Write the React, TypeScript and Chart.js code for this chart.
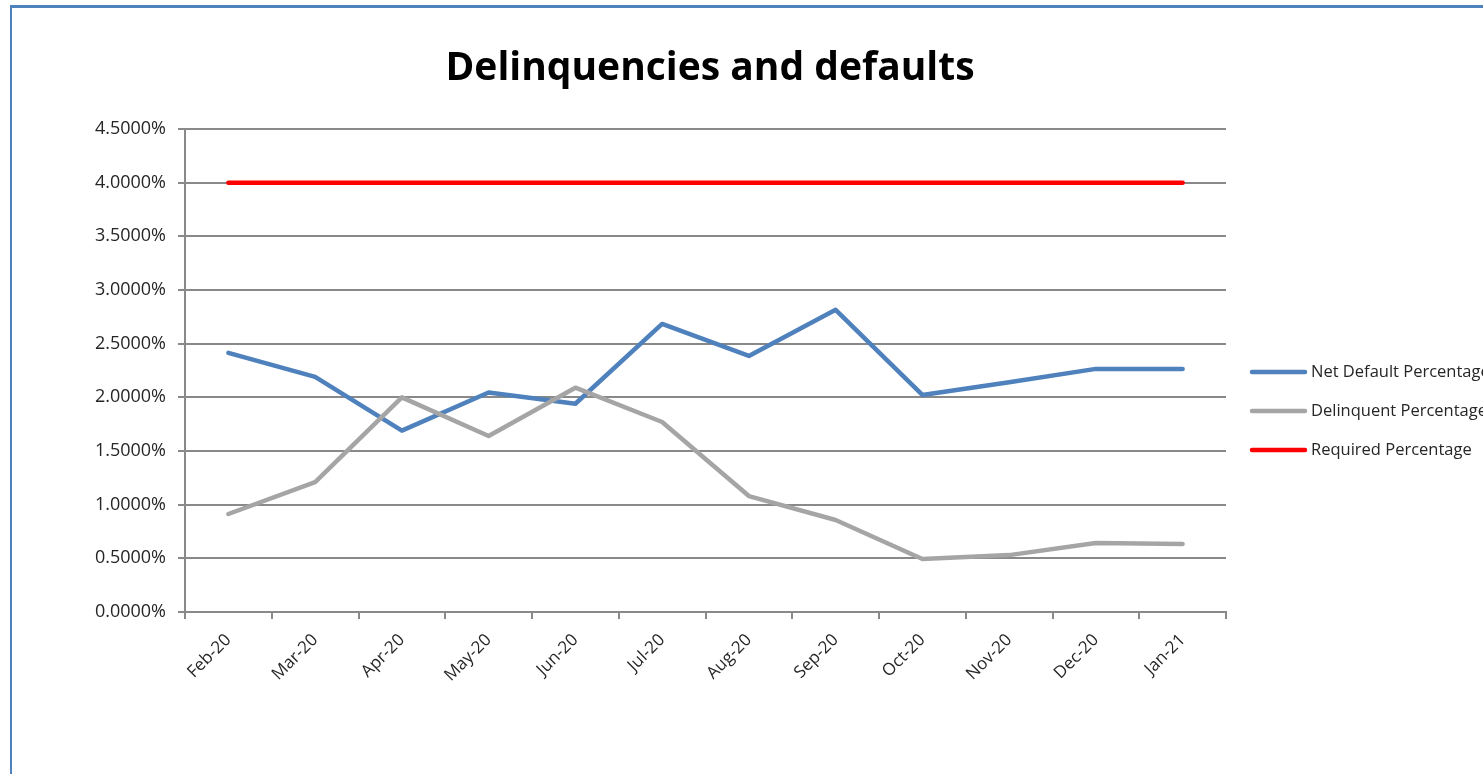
import React, { useEffect, useRef } from "react";
import { Chart, registerables } from "chart.js";

Chart.register(...registerables);

const categories = ["Feb-20", "Mar-20", "Apr-20", "May-20", "Jun-20", "Jul-20", "Aug-20", "Sep-20", "Oct-20", "Nov-20", "Dec-20", "Jan-21"];
const netDefault = [2.414, 2.19, 1.69, 2.045, 1.94, 2.684, 2.386, 2.815, 2.022, 2.14, 2.265, 2.265];
const delinquent = [0.913, 1.21, 2.0, 1.64, 2.09, 1.77, 1.08, 0.857, 0.494, 0.53, 0.643, 0.634];
const required = [4, 4, 4, 4, 4, 4, 4, 4, 4, 4, 4, 4];
const seriesNames = ["Net Default Percentage", "Delinquent Percentage", "Required Percentage"];
const seriesColors = ["#4f81bd", "#a5a5a5", "#ff0000"];
const titleText = "Delinquencies and defaults";

const FONT = "'Open Sans', sans-serif";

const titlePlugin = {
  id: "customTitle",
  afterDraw(chart: any) {
    const ctx = chart.ctx;
    ctx.save();
    ctx.fillStyle = "#000";
    ctx.font = "bold 39px " + FONT;
    ctx.textAlign = "center";
    ctx.textBaseline = "middle";
    ctx.fillText(titleText, 710, 69);
    ctx.restore();
  },
};

const legendPlugin = {
  id: "customLegend",
  afterDraw(chart: any) {
    const ctx = chart.ctx;
    const area = chart.chartArea;
    const x0 = area.right + 24;
    const y0 = area.top + 243;
    const gap = 39;
    ctx.save();
    chart.data.datasets.forEach((ds: any, i: number) => {
      const y = y0 + i * gap;
      ctx.strokeStyle = ds.borderColor;
      ctx.lineWidth = 4.5;
      ctx.lineCap = "round";
      ctx.beginPath();
      ctx.moveTo(x0 + 2, y);
      ctx.lineTo(x0 + 55, y);
      ctx.stroke();
      ctx.fillStyle = "#262626";
      ctx.font = "16.5px " + FONT;
      ctx.textBaseline = "middle";
      ctx.textAlign = "left";
      ctx.fillText(ds.label, x0 + 61, y);
    });
    ctx.restore();
  },
};

export default function App() {
  const canvasRef = useRef<HTMLCanvasElement | null>(null);

  useEffect(() => {
    document.body.style.margin = "0";
    document.body.style.overflow = "hidden";
    const canvas = canvasRef.current!;
    const data = [netDefault, delinquent, required];
    const chart = new Chart(canvas, {
      type: "line",
      data: {
        labels: categories,
        datasets: data.map((d, i) => ({
          label: seriesNames[i],
          data: d,
          borderColor: seriesColors[i],
          backgroundColor: seriesColors[i],
          borderWidth: 4.5,
          pointRadius: 0,
          pointHoverRadius: 0,
          tension: 0,
          borderCapStyle: "round",
          borderJoinStyle: "round",
          order: 2 - i,
        })),
      },
      options: {
        animation: false,
        responsive: false,
        maintainAspectRatio: false,
        events: [],
        layout: { padding: { left: 0, right: 257, top: 129, bottom: 40 } },
        plugins: {
          legend: { display: false },
          tooltip: { enabled: false },
          title: { display: false },
        },
        scales: {
          x: {
            type: "category",
            offset: true,
            afterFit(scale: any) {
              scale.height = 122;
            },
            grid: {
              offset: true,
              drawOnChartArea: false,
              drawTicks: true,
              tickLength: 7,
              color: "#898989",
              lineWidth: 2,
            },
            border: { display: true, color: "#898989", width: 2 },
            ticks: {
              autoSkip: false,
              maxRotation: 45,
              minRotation: 45,
              padding: 11,
              color: "#262626",
              font: { family: FONT, size: 17 },
            },
          },
          y: {
            min: 0,
            max: 4.5,
            afterFit(scale: any) {
              scale.width = 185;
            },
            grid: {
              drawOnChartArea: true,
              drawTicks: true,
              tickLength: 7,
              color: "#898989",
              lineWidth: 2,
            },
            border: { display: true, color: "#898989", width: 2 },
            ticks: {
              stepSize: 0.5,
              padding: 12,
              color: "#262626",
              font: { family: FONT, size: 18 },
              callback: (v: any) => Number(v).toFixed(4) + "%",
            },
          },
        },
      },
      plugins: [legendPlugin, titlePlugin],
    } as any);
    return () => chart.destroy();
  }, []);

  return (
    <div style={{ position: "relative", width: 1483, height: 774, overflow: "hidden", background: "#fff" }}>
      <div
        style={{
          position: "absolute",
          left: 10,
          top: 5,
          width: 2000,
          height: 2000,
          borderLeft: "2px solid #4f81bd",
          borderTop: "3px solid #4f81bd",
        }}
      />
      <canvas ref={canvasRef} width={1483} height={774} style={{ position: "absolute", left: 0, top: 0, display: "block" }} />
    </div>
  );
}
